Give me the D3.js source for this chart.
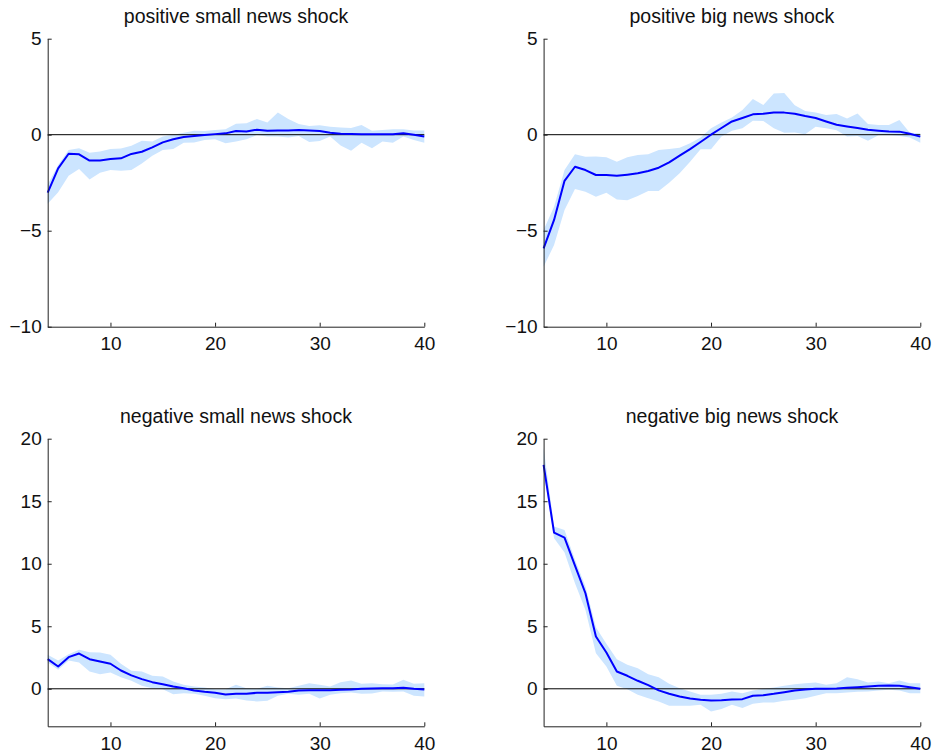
<!DOCTYPE html>
<html>
<head>
<meta charset="utf-8">
<script src="https://cdn.jsdelivr.net/npm/d3@7"></script>
<style>
  html, body { margin: 0; padding: 0; background: #fff; }
  svg { display: block; }
  text { font-family: "Liberation Sans", Arial, Helvetica, sans-serif; }
</style>
</head>
<body>
<svg id="chart" width="933" height="755"></svg>
<script>
// ---- data ----
const periods = [4,5,6,7,8,9,10,11,12,13,14,15,16,17,18,19,20,21,22,23,24,25,26,27,28,29,30,31,32,33,34,35,36,37,38,39,40];

const titles = ["positive small news shock", "positive big news shock", "negative small news shock", "negative big news shock"];

const xTicks = [10, 20, 30, 40];
const yTicksTop = [-10, -5, 0, 5];
const yTicksBottom = [0, 5, 10, 15, 20];

// positive small news shock
const posSmallMean  = [-3.02,-1.75,-0.99,-1.02,-1.35,-1.34,-1.27,-1.23,-1.00,-0.89,-0.66,-0.40,-0.24,-0.12,-0.07,-0.02,0.03,0.07,0.19,0.17,0.26,0.20,0.22,0.22,0.24,0.22,0.19,0.10,0.05,0.03,0.02,0.02,0.02,0.02,0.07,0.00,-0.09];
const posSmallUpper = [-2.60,-1.58,-0.80,-0.70,-0.94,-0.88,-0.75,-0.72,-0.57,-0.31,-0.36,-0.10,0.00,0.10,0.20,0.19,0.24,0.28,0.57,0.59,0.82,0.64,1.15,0.82,0.56,0.45,0.49,0.42,0.38,0.35,0.50,0.20,0.24,0.28,0.28,0.22,0.22];
const posSmallLower = [-3.60,-3.00,-2.14,-1.79,-2.33,-1.98,-1.84,-1.88,-1.84,-1.50,-1.10,-0.80,-0.75,-0.42,-0.40,-0.28,-0.24,-0.45,-0.35,-0.24,-0.02,-0.10,-0.10,-0.14,-0.07,-0.38,-0.33,-0.10,-0.56,-0.83,-0.42,-0.71,-0.36,-0.42,-0.10,-0.28,-0.42];

// positive big news shock
const posBigMean  = [-5.92,-4.44,-2.40,-1.67,-1.84,-2.10,-2.10,-2.14,-2.08,-2.01,-1.89,-1.72,-1.44,-1.09,-0.75,-0.38,0.00,0.35,0.69,0.87,1.06,1.09,1.16,1.15,1.09,0.97,0.87,0.69,0.52,0.43,0.35,0.26,0.21,0.17,0.16,0.05,-0.10];
const posBigUpper = [-4.97,-3.75,-1.84,-1.02,-1.15,-1.13,-1.18,-1.41,-1.18,-1.06,-1.02,-0.80,-0.75,-0.68,-0.45,-0.14,0.33,0.64,0.90,1.28,1.86,1.55,2.15,2.17,1.53,1.23,1.16,1.02,1.08,0.85,1.11,0.56,0.50,0.50,0.76,0.10,0.07];
const posBigLower = [-6.88,-5.75,-3.92,-2.83,-2.97,-3.23,-3.02,-3.37,-3.42,-3.19,-2.93,-2.93,-2.50,-2.01,-1.41,-0.76,-0.76,-0.10,0.21,0.33,0.73,0.71,0.33,0.10,0.12,0.02,0.42,0.33,0.23,-0.10,-0.07,-0.31,-0.03,-0.03,-0.07,-0.14,-0.42];

// negative small news shock
const negSmallMean  = [2.37,1.78,2.53,2.82,2.37,2.18,2.00,1.46,1.07,0.77,0.53,0.37,0.19,0.05,-0.13,-0.24,-0.32,-0.45,-0.40,-0.40,-0.32,-0.32,-0.27,-0.24,-0.13,-0.11,-0.11,-0.11,-0.08,-0.05,0.00,0.03,0.05,0.05,0.08,0.00,-0.05];
const negSmallUpper = [2.72,2.26,2.77,3.12,2.93,2.90,2.72,2.00,1.44,1.38,1.04,0.99,0.59,0.32,0.19,0.11,-0.03,-0.03,0.32,0.05,0.00,0.24,0.11,0.05,0.24,0.45,0.32,0.19,0.53,0.67,0.40,0.45,0.37,0.35,0.72,0.40,0.45];
const negSmallLower = [2.10,1.52,2.26,2.10,1.38,1.17,1.30,0.93,0.64,0.24,0.05,-0.03,-0.43,-0.35,-0.40,-0.56,-0.75,-0.83,-0.77,-0.93,-1.01,-0.96,-0.56,-0.40,-0.48,-0.40,-0.77,-0.48,-0.35,-0.29,-0.40,-0.37,-0.21,-0.24,-0.21,-0.56,-0.61];

// negative big news shock
const negBigMean  = [17.90,12.49,12.09,9.85,7.64,4.18,2.90,1.38,1.04,0.64,0.29,-0.13,-0.40,-0.61,-0.77,-0.88,-0.93,-0.91,-0.85,-0.83,-0.56,-0.51,-0.40,-0.27,-0.13,-0.05,0.00,0.00,0.03,0.08,0.13,0.19,0.24,0.27,0.24,0.13,0.00];
const negBigUpper = [19.30,12.97,12.70,10.31,8.18,4.93,3.60,2.37,1.92,1.65,1.17,0.93,0.40,0.05,-0.21,-0.48,-0.48,-0.40,-0.21,-0.35,-0.13,0.00,0.11,0.24,0.37,0.45,0.51,0.32,0.45,0.93,0.77,0.51,0.59,0.45,0.67,0.45,0.45];
const negBigLower = [17.50,12.04,10.89,8.44,6.31,2.85,1.78,0.24,-0.03,-0.48,-0.75,-1.01,-1.36,-1.36,-1.36,-1.28,-1.81,-1.62,-1.28,-1.54,-1.20,-1.09,-1.09,-0.96,-0.88,-0.75,-0.56,-0.35,-0.35,-0.29,-0.24,-0.21,-0.13,-0.08,-0.13,-0.35,-0.35];

// ---- layout ----
const svg = d3.select("#chart");
const panels = [
  { title: titles[0], mean: posSmallMean, upper: posSmallUpper, lower: posSmallLower, yDomain: [-10, 5], yTicks: yTicksTop, x0: 47.7, y0: 38.7, w: 376.6, h: 288, titleY: 23 },
  { title: titles[1], mean: posBigMean, upper: posBigUpper, lower: posBigLower, yDomain: [-10, 5], yTicks: yTicksTop, x0: 543.6, y0: 38.7, w: 376.7, h: 288, titleY: 23 },
  { title: titles[2], mean: negSmallMean, upper: negSmallUpper, lower: negSmallLower, yDomain: [-3, 20], yTicks: yTicksBottom, x0: 47.7, y0: 438.7, w: 376.6, h: 287.6, titleY: 422.5 },
  { title: titles[3], mean: negBigMean, upper: negBigUpper, lower: negBigLower, yDomain: [-3, 20], yTicks: yTicksBottom, x0: 543.6, y0: 438.7, w: 376.7, h: 287.6, titleY: 422.5 }
];

const fmt = d => (d < 0 ? "\u2212" + Math.abs(d) : String(d));

panels.forEach(p => {
  const g = svg.append("g").attr("transform", `translate(${p.x0},${p.y0})`);
  const x = d3.scaleLinear().domain([4, 40]).range([0, p.w]);
  const y = d3.scaleLinear().domain(p.yDomain).range([p.h, 0]);

  const rows = periods.map((t, i) => ({ t, m: p.mean[i], u: p.upper[i], l: p.lower[i] }));

  g.append("path")
    .datum(rows)
    .attr("fill", "#cce5ff")
    .attr("stroke", "none")
    .attr("d", d3.area().x(d => x(d.t)).y0(d => y(d.l)).y1(d => y(d.u)));

  g.append("line")
    .attr("x1", x(4)).attr("x2", x(40))
    .attr("y1", y(0)).attr("y2", y(0))
    .attr("stroke", "#000").attr("stroke-width", 1);

  g.append("path")
    .datum(rows)
    .attr("fill", "none")
    .attr("stroke", "#0000ff")
    .attr("stroke-width", 2)
    .attr("stroke-linejoin", "round")
    .attr("d", d3.line().x(d => x(d.t)).y(d => y(d.m)));

  const ax = g.append("g")
    .attr("transform", `translate(0,${p.h})`)
    .call(d3.axisBottom(x).tickValues(xTicks).tickSizeInner(-4).tickSizeOuter(0).tickPadding(10).tickFormat(fmt));
  const ay = g.append("g")
    .call(d3.axisLeft(y).tickValues(p.yTicks).tickSizeInner(-4).tickSizeOuter(0).tickPadding(6).tickFormat(fmt));

  [ax, ay].forEach(a => {
    a.attr("font-family", null).attr("font-size", null);
    a.select(".domain").attr("stroke", "#222").attr("stroke-width", 1);
    a.selectAll(".tick line").attr("stroke", "#222");
    a.selectAll(".tick text")
      .attr("fill", "#111")
      .style("font-family", "'Liberation Sans', Arial, Helvetica, sans-serif")
      .style("font-size", "19px");
  });

  svg.append("text")
    .attr("x", p.x0 + p.w / 2)
    .attr("y", p.titleY)
    .attr("text-anchor", "middle")
    .attr("fill", "#111")
    .style("font-size", "19.5px")
    .text(p.title);
});
</script>
</body>
</html>
